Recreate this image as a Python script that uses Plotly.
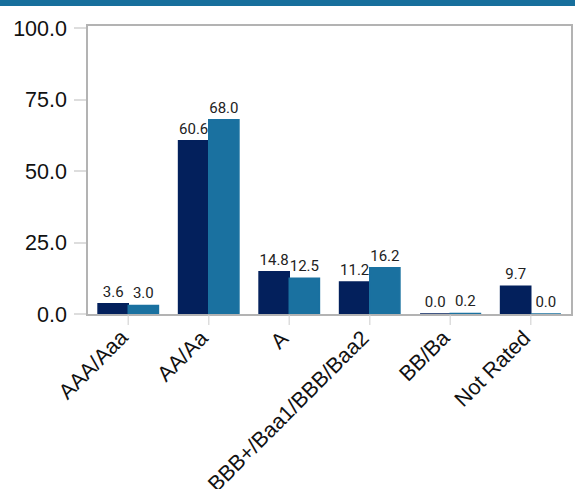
import plotly.graph_objects as go

categories = ["AAA/Aaa", "AA/Aa", "A", "BBB+/Baa1/BBB/Baa2", "BB/Ba", "Not Rated"]
series_a = [3.6, 60.6, 14.8, 11.2, 0.0, 9.7]
series_b = [3.0, 68.0, 12.5, 16.2, 0.2, 0.0]
tick_vals = [0, 25, 50, 75, 100]
tick_text = ["0.0", "25.0", "50.0", "75.0", "100.0"]

navy = "#03205c"
blue = "#1a71a0"

fig = go.Figure()
for vals, col in [(series_a, navy), (series_b, blue)]:
    fig.add_trace(go.Bar(
        x=categories, y=vals,
        marker=dict(color=col, line=dict(color=col, width=1.5)),
        text=[f"{v:.1f}" for v in vals],
        textposition="outside",
        textfont=dict(family="Roboto", size=15, color="#222222"),
        cliponaxis=False,
        showlegend=False,
    ))

L, R, T, B = 88, 4, 26, 175
pw = 575 - L - R
ph = 489 - T - B

shapes = [dict(type="rect", xref="paper", yref="paper",
               x0=-L / pw, x1=1 + R / pw,
               y0=1 + (T - 6) / ph, y1=1 + T / ph,
               fillcolor="#176f9c", line=dict(width=0), layer="above")]
annotations = []
for c in categories:
    shapes.append(dict(type="line", xref="x", yref="paper", x0=c, x1=c,
                       y0=-1.5 / ph, y1=-11 / ph,
                       line=dict(color="#dddddd", width=1.5)))
    annotations.append(dict(x=c, xref="x", y=0, yref="paper", text=c,
                            showarrow=False, textangle=-45,
                            xanchor="right", yanchor="top",
                            xshift=7, yshift=-9,
                            font=dict(family="Liberation Sans", size=21.5,
                                      color="#111111")))

fig.update_layout(
    width=575, height=489,
    margin=dict(l=L, r=R, t=T, b=B, pad=0, autoexpand=False),
    paper_bgcolor="white", plot_bgcolor="white",
    barmode="group", bargap=0.25, bargroupgap=0,
    font=dict(family="Liberation Sans", color="#111111"),
    shapes=shapes, annotations=annotations,
)
fig.update_yaxes(
    automargin=False,
    range=[0, 100.8], tickvals=tick_vals, ticktext=tick_text,
    showgrid=False, zeroline=False,
    showline=True, linecolor="#b3b3b3", linewidth=1.5, mirror=True,
    ticks="outside", ticklen=12, tickcolor="#dddddd", tickwidth=1.5,
    ticklabelstandoff=3,
    tickfont=dict(family="Liberation Sans", size=21.5, color="#111111"),
)
fig.update_xaxes(
    automargin=False, autorange=False, range=[-0.5, 5.5],
    showline=True, linecolor="#b3b3b3", linewidth=1.5, mirror=True,
    ticks="", showticklabels=False,
)

fig.write_html(
    "out.html",
    config={"displayModeBar": False},
    post_script="document.body.style.margin='0';document.body.style.overflow='hidden';",
)
